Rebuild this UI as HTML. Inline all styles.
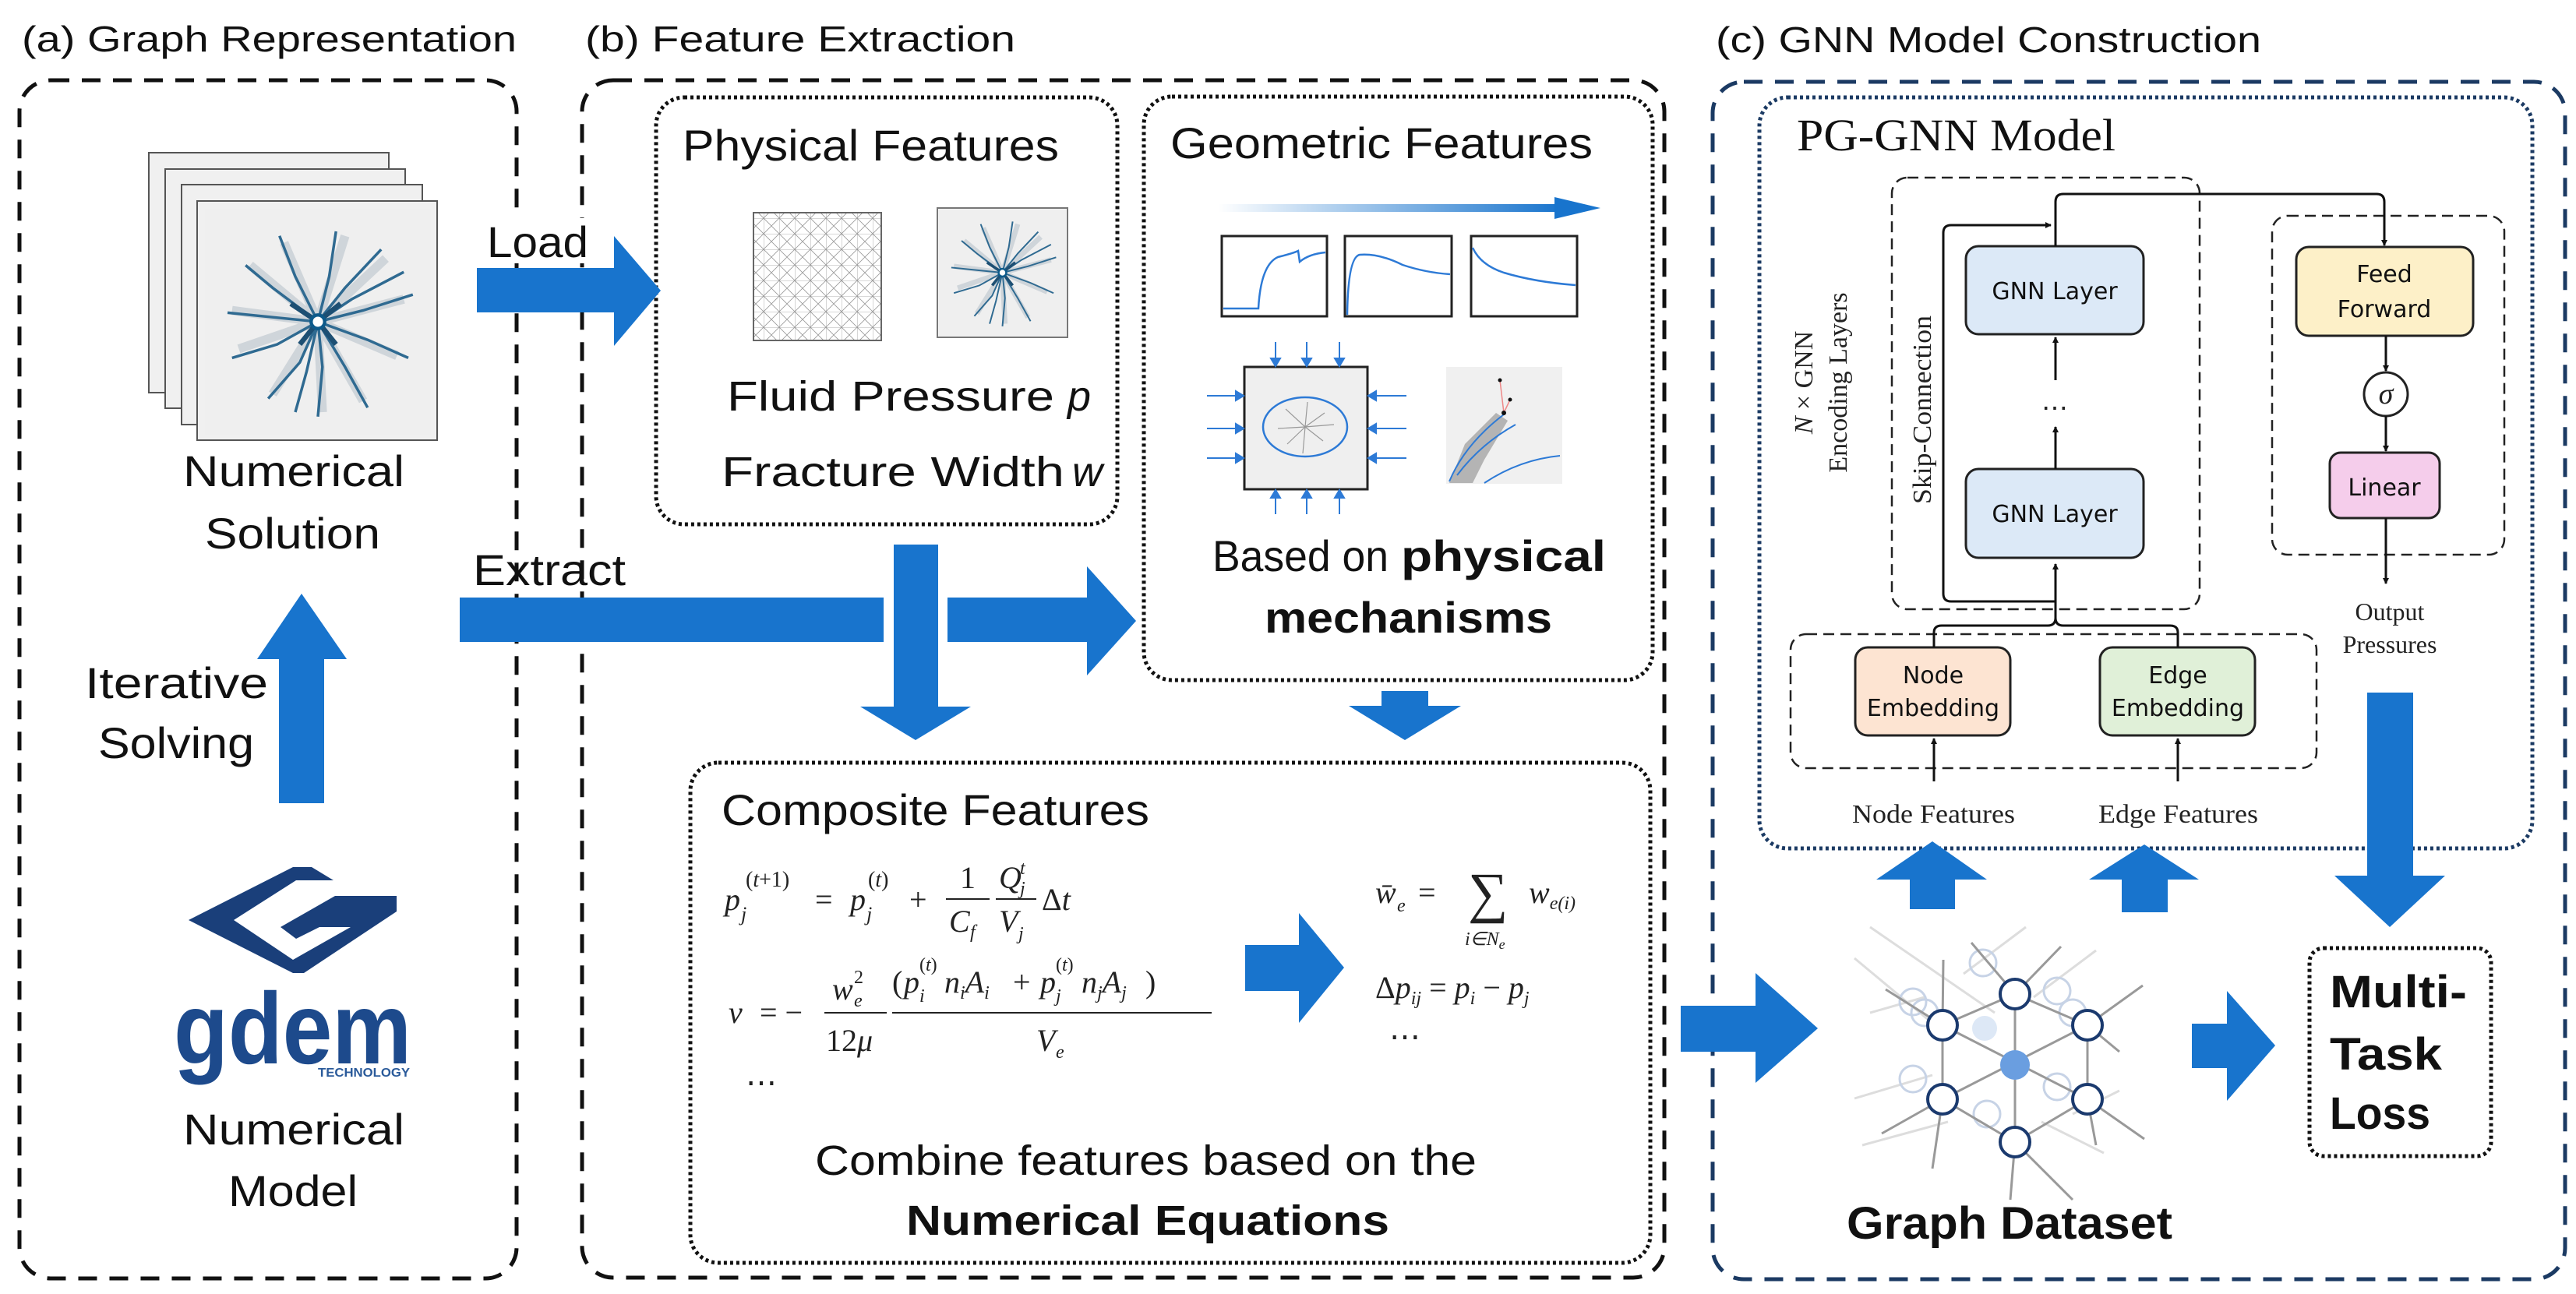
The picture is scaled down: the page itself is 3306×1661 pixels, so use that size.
<!DOCTYPE html>
<html><head><meta charset="utf-8"><style>
html,body{margin:0;padding:0;background:#fff;}
svg{display:block;}
.t{font-family:"Liberation Sans",sans-serif;fill:#111;}
.s{font-family:"Liberation Serif",serif;fill:#111;}
.m{font-family:"Liberation Serif",serif;font-style:italic;fill:#222;}
.mr{font-family:"Liberation Serif",serif;fill:#222;}
.d{font-family:"DejaVu Sans",sans-serif;fill:#111;}
</style></head><body>
<svg width="3306" height="1661" viewBox="0 0 3306 1661" xmlns="http://www.w3.org/2000/svg">
<defs>
<symbol id="frac" viewBox="0 0 100 100">
<rect x="0" y="0" width="100" height="100" fill="#efefef"/>
<g stroke="#b9c3cb" stroke-width="4" opacity="0.6" fill="none">
<path d="M50 50 L20 25 M50 50 L35 15 M50 50 L62 12 M50 50 L80 22 M50 50 L88 40 M50 50 L85 65 M50 50 L70 85 M50 50 L52 90 M50 50 L30 82 M50 50 L15 62 M50 50 L12 45"/>
</g>
<g stroke="#2f6a91" stroke-width="1.2" fill="none">
<path d="M50 50 L30 35 L18 25 M50 50 L40 30 L33 12 M50 50 L55 30 L58 10 M50 50 L62 35 L78 18 M50 50 L70 45 L92 38 M50 50 L72 58 L90 66 M50 50 L62 70 L72 88 M50 50 L52 70 L50 92 M50 50 L42 68 L28 84 M50 50 L32 60 L12 66 M50 50 L30 48 L10 46 M50 50 L45 72 L40 90 M50 50 L65 40 L88 28"/>
</g>
<g stroke="#1d4f73" stroke-width="2.2" fill="none"><path d="M50 50 L38 42 M50 50 L60 42 M50 50 L58 60 M50 50 L42 60"/></g>
<circle cx="50" cy="50" r="3" fill="#fff" stroke="#0d5a8a" stroke-width="1.5"/>
</symbol>
<pattern id="mesh" width="20" height="20" patternUnits="userSpaceOnUse">
<path d="M0 0 L20 0 M0 0 L0 20 M0 0 L20 20 M20 0 L0 20" stroke="#999" stroke-width="0.8" fill="none"/>
</pattern>
<marker id="ah" markerWidth="8" markerHeight="8" refX="7" refY="4" orient="auto" markerUnits="userSpaceOnUse" viewBox="0 0 8 8"><path d="M0 0 L8 4 L0 8 z" fill="#111"/></marker>
<linearGradient id="gr" x1="0" x2="1"><stop offset="0" stop-color="#1874cd" stop-opacity="0"/><stop offset="1" stop-color="#1874cd"/></linearGradient>
</defs>

<text class="t" x="28" y="66" font-size="46" textLength="635" lengthAdjust="spacingAndGlyphs">(a) Graph Representation</text>
<text class="t" x="751" y="66" font-size="46" textLength="552" lengthAdjust="spacingAndGlyphs">(b) Feature Extraction</text>
<text class="t" x="2202" y="67" font-size="46" textLength="700" lengthAdjust="spacingAndGlyphs">(c) GNN Model Construction</text>

<rect x="25" y="103" width="638" height="1538" rx="40" fill="none" stroke="#111" stroke-width="5" stroke-dasharray="24 16"/>
<rect x="747" y="103" width="1389" height="1537" rx="40" fill="none" stroke="#111" stroke-width="5" stroke-dasharray="24 16"/>
<rect x="2198" y="105" width="1094" height="1537" rx="40" fill="none" stroke="#1b3a63" stroke-width="5" stroke-dasharray="24 16"/>
<rect x="2258" y="125" width="992" height="964" rx="36" fill="none" stroke="#1b3a63" stroke-width="5" stroke-dasharray="4 4"/>
<rect x="842" y="125" width="592" height="548" rx="36" fill="none" stroke="#111" stroke-width="5" stroke-dasharray="4 4"/>
<rect x="1468" y="124" width="653" height="749" rx="36" fill="none" stroke="#111" stroke-width="5" stroke-dasharray="4 4"/>
<rect x="886" y="979" width="1232" height="642" rx="36" fill="none" stroke="#111" stroke-width="5" stroke-dasharray="4 4"/>
<rect x="2964" y="1217" width="233" height="267" rx="18" fill="none" stroke="#111" stroke-width="5" stroke-dasharray="4 4"/>

<g stroke="#555" stroke-width="2" fill="#f0f0f0">
<rect x="191" y="196" width="308" height="308"/>
<rect x="212" y="217" width="308" height="307"/>
<rect x="233" y="237" width="309" height="308"/>
<rect x="253" y="258" width="308" height="307"/>
</g>
<use href="#frac" x="263" y="268" width="290" height="290"/>
<text class="t" x="235" y="624" font-size="56" textLength="284" lengthAdjust="spacingAndGlyphs">Numerical</text>
<text class="t" x="263" y="704" font-size="56" textLength="225" lengthAdjust="spacingAndGlyphs">Solution</text>
<text class="t" x="109" y="896" font-size="56" textLength="235" lengthAdjust="spacingAndGlyphs">Iterative</text>
<text class="t" x="126" y="973" font-size="56" textLength="200" lengthAdjust="spacingAndGlyphs">Solving</text>
<polygon points="358,1031 358,846 330,846 387,762 445,846 416,846 416,1031" fill="#1874cd"/>
<polygon points="242,1181 376,1113 400,1113 428,1130 380,1130 300,1181 376,1232 450,1190 410,1190 380,1205 360,1190 430,1150 509,1150 509,1170 390,1249 376,1249" fill="#1a3f7a"/>
<text x="223" y="1365" font-family="Liberation Sans,sans-serif" font-weight="bold" font-size="130" fill="#1d4a8c" textLength="305" lengthAdjust="spacingAndGlyphs">gdem</text>
<text x="408" y="1382" font-family="Liberation Sans,sans-serif" font-weight="bold" font-size="16" fill="#2a5a9a" textLength="118" lengthAdjust="spacingAndGlyphs">TECHNOLOGY</text>
<text class="t" x="235" y="1469" font-size="56" textLength="284" lengthAdjust="spacingAndGlyphs">Numerical</text>
<text class="t" x="293" y="1548" font-size="56" textLength="166" lengthAdjust="spacingAndGlyphs">Model</text>

<rect x="620" y="280" width="140" height="58" fill="#fff"/>
<text class="t" x="625" y="330" font-size="56" textLength="130" lengthAdjust="spacingAndGlyphs">Load</text>
<polygon points="612,344 788,344 788,303 848,373 788,444 788,401 612,401" fill="#1874cd"/>
<text class="t" x="607" y="751" font-size="56" textLength="196" lengthAdjust="spacingAndGlyphs">Extract</text>
<rect x="590" y="767" width="544" height="57" fill="#1874cd"/>
<polygon points="1147,699 1204,699 1204,907 1246,907 1175,950 1104,907 1147,907" fill="#1874cd"/>
<polygon points="1216,767 1395,767 1395,727 1458,797 1395,867 1395,824 1216,824" fill="#1874cd"/>
<polygon points="1773,887 1833,887 1833,906 1875,906 1803,950 1731,906 1773,906" fill="#1874cd"/>

<text class="t" x="876" y="206" font-size="56" textLength="483" lengthAdjust="spacingAndGlyphs">Physical Features</text>
<rect x="967" y="273" width="164" height="164" fill="url(#mesh)" stroke="#666" stroke-width="2"/>
<rect x="1203" y="267" width="167" height="166" fill="none" stroke="#777" stroke-width="2"/>
<use href="#frac" x="1204" y="268" width="165" height="164"/>
<text class="t" x="933" y="527" font-size="54" textLength="420" lengthAdjust="spacingAndGlyphs">Fluid Pressure</text>
<text class="t" x="1370" y="527" font-size="54" font-style="italic">p</text>
<text class="t" x="926" y="624" font-size="54" textLength="440" lengthAdjust="spacingAndGlyphs">Fracture Width</text>
<text class="t" x="1376" y="624" font-size="54" font-style="italic">w</text>

<text class="t" x="1502" y="203" font-size="56" textLength="542" lengthAdjust="spacingAndGlyphs">Geometric Features</text>
<rect x="1563" y="262" width="440" height="10" fill="url(#gr)"/>
<polygon points="1995,253 2054,267 1995,281" fill="#1874cd"/>
<g fill="#fff" stroke="#222" stroke-width="3">
<rect x="1568" y="303" width="135" height="103"/>
<rect x="1726" y="303" width="137" height="103"/>
<rect x="1888" y="303" width="136" height="103"/>
</g>
<g fill="none" stroke="#2d7ad6" stroke-width="2.5">
<path d="M1570 396 L1615 396 Q1618 340 1640 330 Q1660 325 1666 322 L1668 336 Q1680 326 1701 324"/>
<path d="M1729 404 Q1730 330 1745 327 Q1770 325 1800 340 Q1830 350 1861 352"/>
<path d="M1890 318 Q1900 340 1930 350 Q1970 362 2022 366"/>
</g>
<rect x="1597" y="471" width="158" height="157" fill="#efefef" stroke="#222" stroke-width="3"/>
<g stroke="#999" stroke-width="1.2"><path d="M1675 548 L1650 525 M1675 548 L1700 530 M1675 548 L1698 566 M1675 548 L1652 570 M1675 548 L1640 550 M1675 548 L1712 545 M1675 548 L1678 516 M1675 548 L1672 582"/></g>
<ellipse cx="1675" cy="548" rx="54" ry="38" fill="none" stroke="#2d7ad6" stroke-width="2.5"/>
<g stroke="#2d7ad6" stroke-width="2" fill="#2d7ad6">
<path d="M1637 439 V466 M1677 439 V466 M1719 439 V466 M1637 660 V633 M1677 660 V633 M1719 660 V633 M1549 508 H1592 M1549 550 H1592 M1549 588 H1592 M1805 508 H1760 M1805 550 H1760 M1805 588 H1760"/>
<path d="M1631 460 L1643 460 L1637 470 Z M1671 460 L1683 460 L1677 470 Z M1713 460 L1725 460 L1719 470 Z M1631 639 L1643 639 L1637 629 Z M1671 639 L1683 639 L1677 629 Z M1713 639 L1725 639 L1719 629 Z M1586 502 L1586 514 L1596 508 Z M1586 544 L1586 556 L1596 550 Z M1586 582 L1586 594 L1596 588 Z M1766 502 L1766 514 L1756 508 Z M1766 544 L1766 556 L1756 550 Z M1766 582 L1766 594 L1756 588 Z"/>
</g>
<rect x="1856" y="471" width="149" height="150" fill="#f0f0f0"/>
<path d="M1860 620 L1880 570 L1920 530 L1935 540 L1905 590 L1890 620 Z" fill="#9a9a9a" opacity="0.7"/>
<g fill="none" stroke="#2d7ad6" stroke-width="2"><path d="M1860 618 Q1880 570 1930 532 M1870 610 Q1900 570 1945 545 M1905 620 Q1950 590 2002 585"/></g>
<path d="M1925 488 L1930 530 L1938 513" stroke="#e88" stroke-width="1.5" fill="none"/>
<circle cx="1925" cy="488" r="2.5" fill="#111"/><circle cx="1938" cy="513" r="2.5" fill="#111"/><circle cx="1930" cy="530" r="3" fill="#111"/>
<text class="t" x="1556" y="733" font-size="56" textLength="226" lengthAdjust="spacingAndGlyphs">Based on</text>
<text class="t" x="1798" y="733" font-size="56" font-weight="bold" textLength="263" lengthAdjust="spacingAndGlyphs">physical</text>
<text class="t" x="1623" y="812" font-size="56" font-weight="bold" textLength="369" lengthAdjust="spacingAndGlyphs">mechanisms</text>

<text class="t" x="926" y="1059" font-size="56" textLength="549" lengthAdjust="spacingAndGlyphs">Composite Features</text>
<g font-size="40">
<text class="m" x="930" y="1168">p</text><text class="m" x="951" y="1182" font-size="26">j</text><text class="mr" x="957" y="1138" font-size="28">(<tspan font-style="italic">t</tspan>+1)</text>
<text class="mr" x="1046" y="1168">=</text>
<text class="m" x="1091" y="1168">p</text><text class="m" x="1112" y="1182" font-size="26">j</text><text class="mr" x="1114" y="1138" font-size="28">(<tspan font-style="italic">t</tspan>)</text>
<text class="mr" x="1167" y="1168">+</text>
<text class="mr" x="1232" y="1140">1</text><line x1="1214" y1="1154" x2="1270" y2="1154" stroke="#222" stroke-width="2"/><text class="m" x="1218" y="1196">C</text><text class="m" x="1245" y="1204" font-size="24">f</text>
<text class="m" x="1282" y="1140">Q</text><text class="m" x="1309" y="1122" font-size="24">t</text><text class="m" x="1309" y="1148" font-size="24">j</text><line x1="1278" y1="1154" x2="1330" y2="1154" stroke="#222" stroke-width="2"/><text class="m" x="1282" y="1196">V</text><text class="m" x="1307" y="1206" font-size="24">j</text>
<text class="mr" x="1337" y="1168">Δ<tspan font-style="italic">t</tspan></text>

<text class="m" x="935" y="1313">ν</text><text class="mr" x="975" y="1313">= −</text>
<text class="m" x="1068" y="1283">w</text><text class="mr" x="1096" y="1262" font-size="24">2</text><text class="m" x="1096" y="1292" font-size="24">e</text>
<line x1="1058" y1="1300" x2="1138" y2="1300" stroke="#222" stroke-width="2"/><text class="mr" x="1060" y="1349">12<tspan font-style="italic">μ</tspan></text>
<text class="mr" x="1145" y="1274">(</text><text class="m" x="1160" y="1274">p</text><text class="m" x="1180" y="1286" font-size="24">i</text><text class="mr" x="1180" y="1246" font-size="24">(<tspan font-style="italic">t</tspan>)</text>
<text class="m" x="1212" y="1274">n<tspan font-size="24" dy="8">i</tspan><tspan dy="-8">A</tspan><tspan font-size="24" dy="8">i</tspan></text>
<text class="mr" x="1300" y="1274">+</text>
<text class="m" x="1335" y="1274">p</text><text class="m" x="1355" y="1286" font-size="24">j</text><text class="mr" x="1355" y="1246" font-size="24">(<tspan font-style="italic">t</tspan>)</text>
<text class="m" x="1388" y="1274">n<tspan font-size="24" dy="8">j</tspan><tspan dy="-8">A</tspan><tspan font-size="24" dy="8">j</tspan></text>
<text class="mr" x="1470" y="1274">)</text>
<line x1="1145" y1="1300" x2="1555" y2="1300" stroke="#222" stroke-width="2"/>
<text class="m" x="1330" y="1349">V</text><text class="m" x="1355" y="1358" font-size="24">e</text>
<text class="mr" x="957" y="1403">⋯</text>

<text class="m" x="1765" y="1159">w̄</text><text class="m" x="1793" y="1170" font-size="24">e</text><text class="mr" x="1820" y="1159">=</text>
<text class="mr" x="1884" y="1170" font-size="72">∑</text><text class="m" x="1880" y="1213" font-size="24">i∈N<tspan font-size="18" dy="5">e</tspan></text>
<text class="m" x="1962" y="1159">w<tspan font-size="24" dy="8">e(i)</tspan></text>
<text class="mr" x="1765" y="1281">Δ<tspan font-style="italic">p</tspan><tspan font-style="italic" font-size="24" dy="8">ij</tspan><tspan dy="-8"> = </tspan><tspan font-style="italic">p</tspan><tspan font-style="italic" font-size="24" dy="8">i</tspan><tspan dy="-8"> − </tspan><tspan font-style="italic">p</tspan><tspan font-style="italic" font-size="24" dy="8">j</tspan></text>
<text class="mr" x="1783" y="1344">⋯</text>
</g>
<polygon points="1598,1213 1667,1213 1667,1172 1725,1242 1667,1313 1667,1272 1598,1272" fill="#1874cd"/>
<text class="t" x="1046" y="1508" font-size="54" textLength="849" lengthAdjust="spacingAndGlyphs">Combine features based on the</text>
<text class="t" x="1163" y="1585" font-size="54" font-weight="bold" textLength="620" lengthAdjust="spacingAndGlyphs">Numerical Equations</text>

<text class="s" x="2306" y="193" font-size="58" textLength="409" lengthAdjust="spacingAndGlyphs">PG-GNN Model</text>
<g fill="none" stroke="#222" stroke-width="2.5" stroke-dasharray="14 8">
<rect x="2428" y="228" width="395" height="554" rx="20"/>
<rect x="2916" y="277" width="298" height="435" rx="20"/>
<rect x="2298" y="814" width="675" height="172" rx="20"/>
</g>
<g stroke="#222" stroke-width="3">
<rect x="2523" y="316" width="228" height="113" rx="16" fill="#dce9f7"/>
<rect x="2523" y="602" width="228" height="114" rx="16" fill="#dce9f7"/>
<rect x="2947" y="317" width="227" height="114" rx="16" fill="#fdf0c8"/>
<rect x="2990" y="581" width="141" height="84" rx="14" fill="#f5cdeb"/>
<rect x="2381" y="831" width="199" height="113" rx="16" fill="#fde4d2"/>
<rect x="2695" y="831" width="199" height="113" rx="16" fill="#e0f0d8"/>
<circle cx="3062" cy="506" r="28" fill="#fff"/>
</g>
<text class="d" x="2637" y="384" font-size="30" text-anchor="middle">GNN Layer</text>
<text class="d" x="2637" y="670" font-size="30" text-anchor="middle">GNN Layer</text>
<text class="d" x="3060" y="362" font-size="30" text-anchor="middle">Feed</text>
<text class="d" x="3060" y="407" font-size="30" text-anchor="middle">Forward</text>
<text class="d" x="3060" y="636" font-size="30" text-anchor="middle">Linear</text>
<text class="d" x="2481" y="877" font-size="30" text-anchor="middle">Node</text>
<text class="d" x="2481" y="919" font-size="30" text-anchor="middle">Embedding</text>
<text class="d" x="2795" y="877" font-size="30" text-anchor="middle">Edge</text>
<text class="d" x="2795" y="919" font-size="30" text-anchor="middle">Embedding</text>
<text class="m" x="3062" y="518" font-size="38" text-anchor="middle">σ</text>
<text class="mr" x="2637" y="535" font-size="34" text-anchor="middle">⋯</text>
<g fill="none" stroke="#111" stroke-width="3">
<path d="M2482 831 V812 Q2482 803 2492 803 H2628 Q2638 803 2638 793" />
<path d="M2795 831 V812 Q2795 803 2785 803 H2648 Q2638 803 2638 793" />
<path d="M2638 796 V724" marker-end="url(#ah)"/>
<path d="M2638 772 H2504 Q2494 772 2494 762 V299 Q2494 289 2504 289 H2632" marker-end="url(#ah)"/>
<path d="M2638 316 V259 Q2638 249 2648 249 H3050 Q3060 249 3060 259 V315" marker-end="url(#ah)"/>
<path d="M2638 602 V548" marker-end="url(#ah)"/>
<path d="M2638 488 V433" marker-end="url(#ah)"/>
<path d="M3062 431 V476" marker-end="url(#ah)"/>
<path d="M3062 534 V579" marker-end="url(#ah)"/>
<path d="M3062 665 V749" marker-end="url(#ah)"/>
<path d="M2482 1003 V948" marker-end="url(#ah)"/>
<path d="M2795 1003 V948" marker-end="url(#ah)"/>
</g>
<text class="m" x="0" y="0" font-size="34" transform="translate(2326 491) rotate(-90)" text-anchor="middle">N<tspan font-style="normal"> × GNN</tspan></text>
<text class="mr" x="0" y="0" font-size="34" transform="translate(2370 491) rotate(-90)" text-anchor="middle">Encoding Layers</text>
<text class="mr" x="0" y="0" font-size="34" transform="translate(2478 526) rotate(-90)" text-anchor="middle" textLength="242" lengthAdjust="spacingAndGlyphs">Skip-Connection</text>
<text class="mr" x="3067" y="796" font-size="32" text-anchor="middle">Output</text>
<text class="mr" x="3067" y="838" font-size="32" text-anchor="middle">Pressures</text>
<text class="mr" x="2377" y="1056" font-size="34" textLength="209" lengthAdjust="spacingAndGlyphs">Node Features</text>
<text class="mr" x="2693" y="1056" font-size="34" textLength="205" lengthAdjust="spacingAndGlyphs">Edge Features</text>

<polygon points="2451,1167 2451,1129 2408,1129 2480,1080 2550,1129 2509,1129 2509,1167" fill="#1874cd"/>
<polygon points="2723,1171 2723,1129 2681,1129 2752,1084 2822,1129 2782,1129 2782,1171" fill="#1874cd"/>
<polygon points="3038,889 3097,889 3097,1124 3138,1124 3067,1190 2996,1124 3038,1124" fill="#1874cd"/>
<polygon points="2157,1291 2253,1291 2253,1249 2333,1320 2253,1390 2253,1350 2157,1350" fill="#1874cd"/>
<polygon points="2813,1314 2858,1314 2858,1272 2920,1342 2858,1413 2858,1371 2813,1371" fill="#1874cd"/>

<g stroke="#ddd" stroke-width="3" fill="none">
<path d="M2380 1230 L2500 1330 M2400 1190 L2560 1300 M2600 1190 L2520 1250 M2690 1220 L2610 1280 M2380 1410 L2480 1380 M2390 1470 L2500 1440 M2700 1480 L2620 1440 M2720 1400 L2660 1430 M2400 1300 L2470 1280"/>
</g>
<g fill="none" stroke="#c7d3e6" stroke-width="3">
<circle cx="2545" cy="1236" r="17"/><circle cx="2455" cy="1286" r="17"/><circle cx="2640" cy="1272" r="17"/><circle cx="2455" cy="1385" r="17"/><circle cx="2640" cy="1395" r="17"/><circle cx="2550" cy="1430" r="17"/><circle cx="2470" cy="1300" r="17"/><circle cx="2660" cy="1300" r="17"/>
</g>
<circle cx="2547" cy="1320" r="16" fill="#dde8f6"/>
<g stroke="#999" stroke-width="3" fill="none">
<path d="M2586 1276 L2493 1316 L2493 1411 L2586 1466 L2679 1411 L2679 1316 Z"/>
<path d="M2586 1276 V1466 M2493 1316 L2679 1411 M2679 1316 L2493 1411"/>
<path d="M2586 1276 L2530 1210 M2586 1276 L2645 1215 M2493 1316 L2420 1270 M2679 1316 L2750 1265 M2493 1411 L2415 1455 M2679 1411 L2752 1462 M2586 1466 L2580 1540 M2586 1466 L2660 1540 M2493 1411 L2480 1500 M2679 1316 L2720 1350 M2493 1316 L2494 1232 M2679 1411 L2690 1470"/>
</g>
<g fill="#fff" stroke="#1b3a6e" stroke-width="4">
<circle cx="2586" cy="1276" r="19"/><circle cx="2493" cy="1316" r="19"/><circle cx="2679" cy="1316" r="19"/><circle cx="2493" cy="1411" r="19"/><circle cx="2679" cy="1411" r="19"/><circle cx="2586" cy="1466" r="19"/>
</g>
<circle cx="2586" cy="1367" r="19" fill="#6a9ee0"/>
<text class="t" x="2370" y="1590" font-size="58" font-weight="bold" textLength="418" lengthAdjust="spacingAndGlyphs">Graph Dataset</text>
<text class="t" x="2990" y="1293" font-size="58" font-weight="bold" textLength="176" lengthAdjust="spacingAndGlyphs">Multi-</text>
<text class="t" x="2990" y="1373" font-size="58" font-weight="bold" textLength="144" lengthAdjust="spacingAndGlyphs">Task</text>
<text class="t" x="2990" y="1449" font-size="58" font-weight="bold" textLength="129" lengthAdjust="spacingAndGlyphs">Loss</text>
</svg>
</body></html>
